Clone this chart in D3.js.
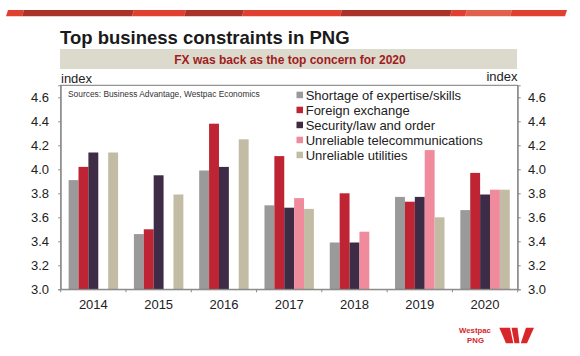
<!DOCTYPE html>
<html>
<head>
<meta charset="utf-8">
<script src="https://cdn.jsdelivr.net/npm/d3@7"></script>
<style>
  html, body { margin: 0; padding: 0; background: #ffffff; }
  svg { display: block; font-family: "Liberation Sans", Arial, sans-serif; }
</style>
</head>
<body>
<svg id="chart" width="580" height="356"></svg>
<script>
// ---------- data ----------
const years = ["2014", "2015", "2016", "2017", "2018", "2019", "2020"];
const seriesNames = [
  "Shortage of expertise/skills",
  "Foreign exchange",
  "Security/law and order",
  "Unreliable telecommunications",
  "Unreliable utilities"
];
const skills    = [3.91, 3.46, 3.99, 3.70, 3.39, 3.77, 3.66];
const fx        = [4.02, 3.50, 4.38, 4.11, 3.80, 3.73, 3.97];
const security  = [4.14, 3.95, 4.02, 3.68, 3.39, 3.77, 3.79];
const telecom   = [null, null, null, 3.76, 3.48, 4.16, 3.83];
const utilities = [4.14, 3.79, 4.25, 3.67, null, 3.60, 3.83];
const yTicks = [3.0, 3.2, 3.4, 3.6, 3.8, 4.0, 4.2, 4.4, 4.6];
const seriesColors = ["#9a9a9a", "#be2433", "#3e2b46", "#ef8b9d", "#c3bca5"];

const titleText = "Top business constraints in PNG";
const subtitleText = "FX was back as the top concern for 2020";
const sourceText = "Sources: Business Advantage, Westpac Economics";

// decorative header stripe segments [x0, x1, colour]
const stripeSegments = [
  [8, 24, "#e0402f"], [24, 134, "#a93329"], [134, 186, "#e0402f"],
  [186, 244, "#a93329"], [244, 342, "#e0402f"], [342, 452, "#a93329"],
  [452, 467, "#e0402f"], [467, 512, "#e0604a"], [512, 567, "#e0402f"]
];

const allSeries = [skills, fx, security, telecom, utilities];

// ---------- layout ----------
const svg = d3.select("#chart");
const plotL = 60.7, plotR = 517.7, plotT = 85.3, plotB = 289.3;

const x0 = d3.scaleBand().domain(years).range([plotL, plotR]).paddingInner(0).paddingOuter(0);
const x1 = d3.scaleBand().domain(d3.range(seriesNames.length))
  .range([0, x0.bandwidth()]).paddingInner(0).paddingOuter(0.8);
const y = d3.scaleLinear().domain([3.0, 4.7]).range([plotB, plotT]);

// header stripe
svg.append("g").selectAll("polygon").data(stripeSegments).join("polygon")
  .attr("points", d => {
    const s = 2;
    return `${d[0]},10 ${d[1]},10 ${d[1] - s},16.3 ${d[0] - s},16.3`;
  })
  .attr("fill", d => d[2]);

// title
svg.append("text").attr("x", 60).attr("y", 44)
  .attr("font-size", 18.5).attr("font-weight", "bold").attr("fill", "#1a1a1a")
  .text(titleText);

// subtitle banner
svg.append("rect").attr("x", 60).attr("y", 49).attr("width", 457).attr("height", 20)
  .attr("fill", "#dcd9cd");
svg.append("text").attr("x", 290).attr("y", 63.5).attr("text-anchor", "middle")
  .attr("font-size", 12).attr("font-weight", "bold").attr("fill", "#a01c1e")
  .text(subtitleText);

// axis unit labels
svg.append("text").attr("x", 61).attr("y", 83.3).attr("font-size", 13).attr("fill", "#222").text("index");
svg.append("text").attr("x", 517.5).attr("y", 80.5).attr("font-size", 13).attr("fill", "#222")
  .attr("text-anchor", "end").text("index");

// bars
const groups = svg.append("g").selectAll("g").data(years).join("g")
  .attr("transform", d => `translate(${x0(d)},0)`);
groups.selectAll("rect")
  .data((yr, i) => allSeries.map((s, k) => ({ k, v: s[i] })).filter(d => d.v != null))
  .join("rect")
  .attr("x", d => x1(d.k))
  .attr("width", x1.bandwidth())
  .attr("y", d => y(d.v))
  .attr("height", d => plotB - y(d.v))
  .attr("fill", d => seriesColors[d.k]);

// frame
svg.append("rect").attr("x", plotL).attr("y", plotT)
  .attr("width", plotR - plotL).attr("height", plotB - plotT)
  .attr("fill", "none").attr("stroke", "#7a7a7a").attr("stroke-width", 1);

// left axis
const fmt = d3.format(".1f");
const gL = svg.append("g").attr("transform", `translate(${plotL},0)`)
  .call(d3.axisLeft(y).tickValues(yTicks).tickFormat(fmt).tickSize(2.5).tickPadding(9.2));
// right axis
const gR = svg.append("g").attr("transform", `translate(${plotR},0)`)
  .call(d3.axisRight(y).tickValues(yTicks).tickFormat(fmt).tickSize(3).tickPadding(7.3));
[gL, gR].forEach(g => {
  g.select(".domain").attr("stroke", "#8a8a8a");
  g.selectAll(".tick line").attr("stroke", "#8a8a8a");
  g.selectAll("text").attr("font-size", 13).attr("fill", "#222")
    .attr("font-family", "Liberation Sans, Arial, sans-serif");
});

// bottom axis
const gB = svg.append("g").attr("transform", `translate(0,${plotB})`)
  .call(d3.axisBottom(x0).tickSize(0).tickPadding(10.3));
gB.select(".domain").attr("stroke", "#8a8a8a");
gB.selectAll("text").attr("font-size", 13).attr("fill", "#222")
  .attr("font-family", "Liberation Sans, Arial, sans-serif");
const boundaries = years.map(d => x0(d)).concat([x0.range()[1]]);
gB.selectAll("line.bound").data(boundaries).join("line").attr("class", "bound")
  .attr("x1", d => d).attr("x2", d => d).attr("y1", 0).attr("y2", 3)
  .attr("stroke", "#8a8a8a");

// sources note
svg.append("text").attr("x", 68).attr("y", 97.3).attr("font-size", 8.4).attr("fill", "#333")
  .text(sourceText);

// legend
const legend = svg.append("g").attr("transform", "translate(296.5,95)");
const li = legend.selectAll("g").data(seriesNames).join("g")
  .attr("transform", (d, i) => `translate(0,${i * 15})`);
li.append("rect").attr("x", 0).attr("y", -3.3).attr("width", 6.5).attr("height", 6.5)
  .attr("fill", (d, i) => seriesColors[i]);
li.append("text").attr("x", 9.2).attr("y", 4.6).attr("font-size", 13).attr("fill", "#222")
  .text(d => d);

// Westpac logo
svg.append("text").attr("x", 475).attr("y", 333.3).attr("text-anchor", "middle")
  .attr("font-size", 7.8).attr("font-weight", "bold").attr("fill", "#d8262b").text("Westpac");
svg.append("text").attr("x", 475.5).attr("y", 343).attr("text-anchor", "middle")
  .attr("font-size", 7.8).attr("font-weight", "bold").attr("fill", "#d8262b").text("PNG");
const wShapes = [
  [[499.3, 327.7], [510, 327.7], [513.3, 343.3], [506, 343.3]],
  [[511.5, 327.7], [517.5, 327.7], [519.5, 343.3], [514.5, 343.3]],
  [[526, 327.7], [534, 327.7], [527, 343.3], [520.8, 343.3]]
];
svg.append("g").selectAll("polygon").data(wShapes).join("polygon")
  .attr("points", d => d.map(p => p.join(",")).join(" "))
  .attr("fill", "#d8262b");
</script>
</body>
</html>
